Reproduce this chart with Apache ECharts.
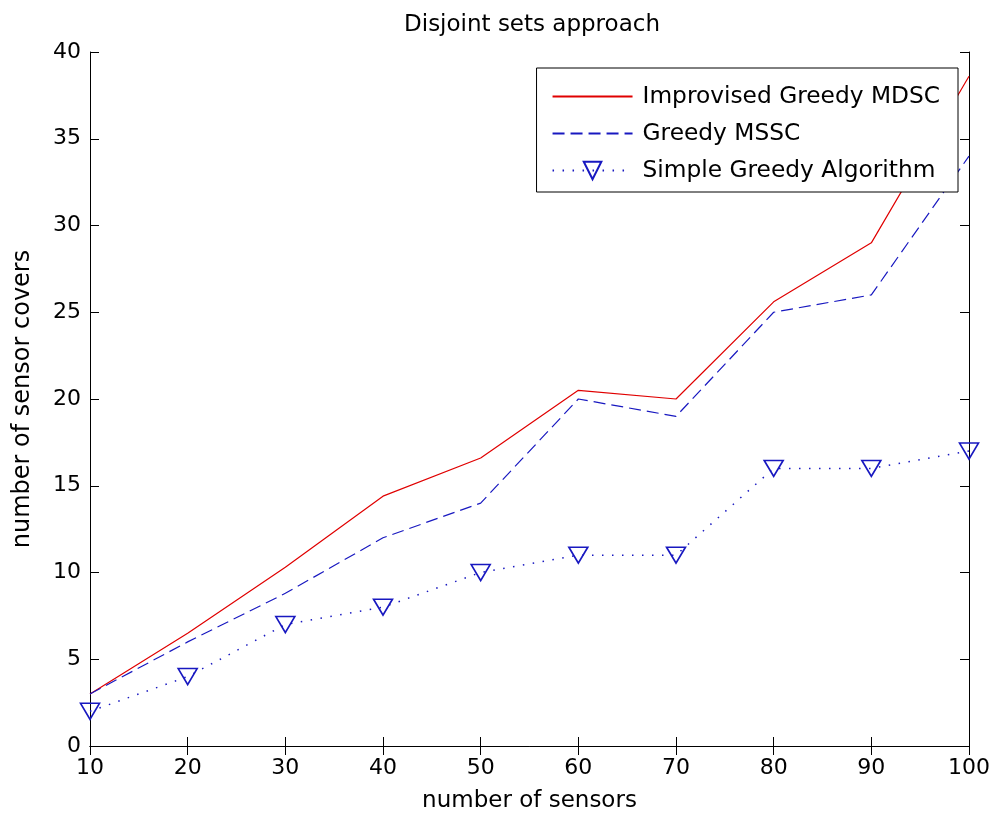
<!DOCTYPE html>
<html>
<head>
<meta charset="utf-8">
<script src="https://cdn.jsdelivr.net/npm/echarts@6/dist/echarts.min.js"></script>
<style>
  html, body { margin: 0; padding: 0; background: #fff; }
  #chart { width: 993px; height: 818px; }
</style>
</head>
<body>
<div id="chart"></div>
<script>
// Number of sensors on the x axis
const sensors = [10, 20, 30, 40, 50, 60, 70, 80, 90, 100];

// Number of disjoint sensor covers found by each algorithm
const improvisedGreedyMDSC = [3, 6.5, 10.3, 14.4, 16.6, 20.5, 20, 25.6, 29, 38.6];
const greedyMSSC = [3, 6, 8.8, 12, 14, 20, 19, 25, 26, 34];
const simpleGreedy = [2, 4, 7, 8, 10, 11, 11, 16, 16, 17];

const seriesNames = ['Improvised Greedy MDSC', 'Greedy MSSC', 'Simple Greedy Algorithm'];

const FONT = 'DejaVu Sans';
const toPairs = ys => sensors.map((x, i) => [x, ys[i]]);

const chart = echarts.init(document.getElementById('chart'), null, { renderer: 'canvas' });

const axisLine = { show: true, lineStyle: { color: '#000', width: 1 } };
const axisTick = { show: true, inside: true, length: 9, lineStyle: { color: '#000' } };
// legend entries for the plain lines: keep the line sample, hide the marker
const lineOnly = { color: 'rgba(0,0,0,0)', borderWidth: 0 };

chart.setOption({
  animation: false,
  backgroundColor: '#fff',
  title: {
    text: 'Disjoint sets approach',
    left: 527,
    textAlign: 'center',
    top: 9,
    textStyle: { fontFamily: FONT, fontSize: 23, fontWeight: 'normal', color: '#000' }
  },
  grid: { left: 90, right: 23, top: 52, bottom: 72, containLabel: false },
  legend: {
    orient: 'vertical',
    right: 35,
    top: 68,
    itemWidth: 80,
    itemHeight: 22,
    itemGap: 14,
    padding: [17, 18, 10, 15],
    backgroundColor: '#fff',
    borderColor: '#000',
    borderWidth: 1,
    borderRadius: 0,
    textStyle: { fontFamily: FONT, fontSize: 23.3, color: '#000', padding: [0, 0, 0, 5] },
    data: [
      { name: seriesNames[0], itemStyle: lineOnly },
      { name: seriesNames[1], itemStyle: lineOnly },
      { name: seriesNames[2] }
    ]
  },
  xAxis: [
    {
      type: 'value', min: 10, max: 100, interval: 10,
      name: 'number of sensors', nameLocation: 'middle', nameGap: 44,
      nameTextStyle: { fontFamily: FONT, fontSize: 23, color: '#000' },
      axisLine, axisTick, splitLine: { show: false },
      axisLabel: { fontFamily: FONT, fontSize: 22, color: '#000', margin: 11 }
    },
    {
      type: 'value', position: 'top', min: 10, max: 100, interval: 10,
      axisLine, axisTick, splitLine: { show: false }, axisLabel: { show: false }
    }
  ],
  yAxis: [
    {
      type: 'value', min: 0, max: 40, interval: 5,
      name: 'number of sensor covers', nameLocation: 'middle', nameGap: 55,
      nameTextStyle: { fontFamily: FONT, fontSize: 24, color: '#000' },
      axisLine, axisTick, splitLine: { show: false },
      axisLabel: { fontFamily: FONT, fontSize: 22, color: '#000', margin: 9 }
    },
    {
      type: 'value', position: 'right', min: 0, max: 40, interval: 5,
      axisLine, axisTick, splitLine: { show: false }, axisLabel: { show: false }
    }
  ],
  series: [
    {
      name: seriesNames[0], type: 'line', data: toPairs(improvisedGreedyMDSC),
      showSymbol: false, symbol: 'none',
      lineStyle: { color: '#e00000', width: 1.2 },
      itemStyle: { color: '#e00000' }
    },
    {
      name: seriesNames[1], type: 'line', data: toPairs(greedyMSSC),
      showSymbol: false, symbol: 'none',
      lineStyle: { color: '#1818c0', width: 1.2, type: [12, 6] },
      itemStyle: { color: '#1818c0' }
    },
    {
      name: seriesNames[2], type: 'line', data: toPairs(simpleGreedy),
      symbol: 'path://M0,0 L20,0 L10,17 Z', symbolSize: [19, 16],
      lineStyle: { color: '#1818c0', width: 1.5, type: [1.5, 8.5] },
      itemStyle: { color: 'rgba(255,255,255,0)', borderColor: '#1818c0', borderWidth: 1.6 }
    }
  ]
});
</script>
</body>
</html>
